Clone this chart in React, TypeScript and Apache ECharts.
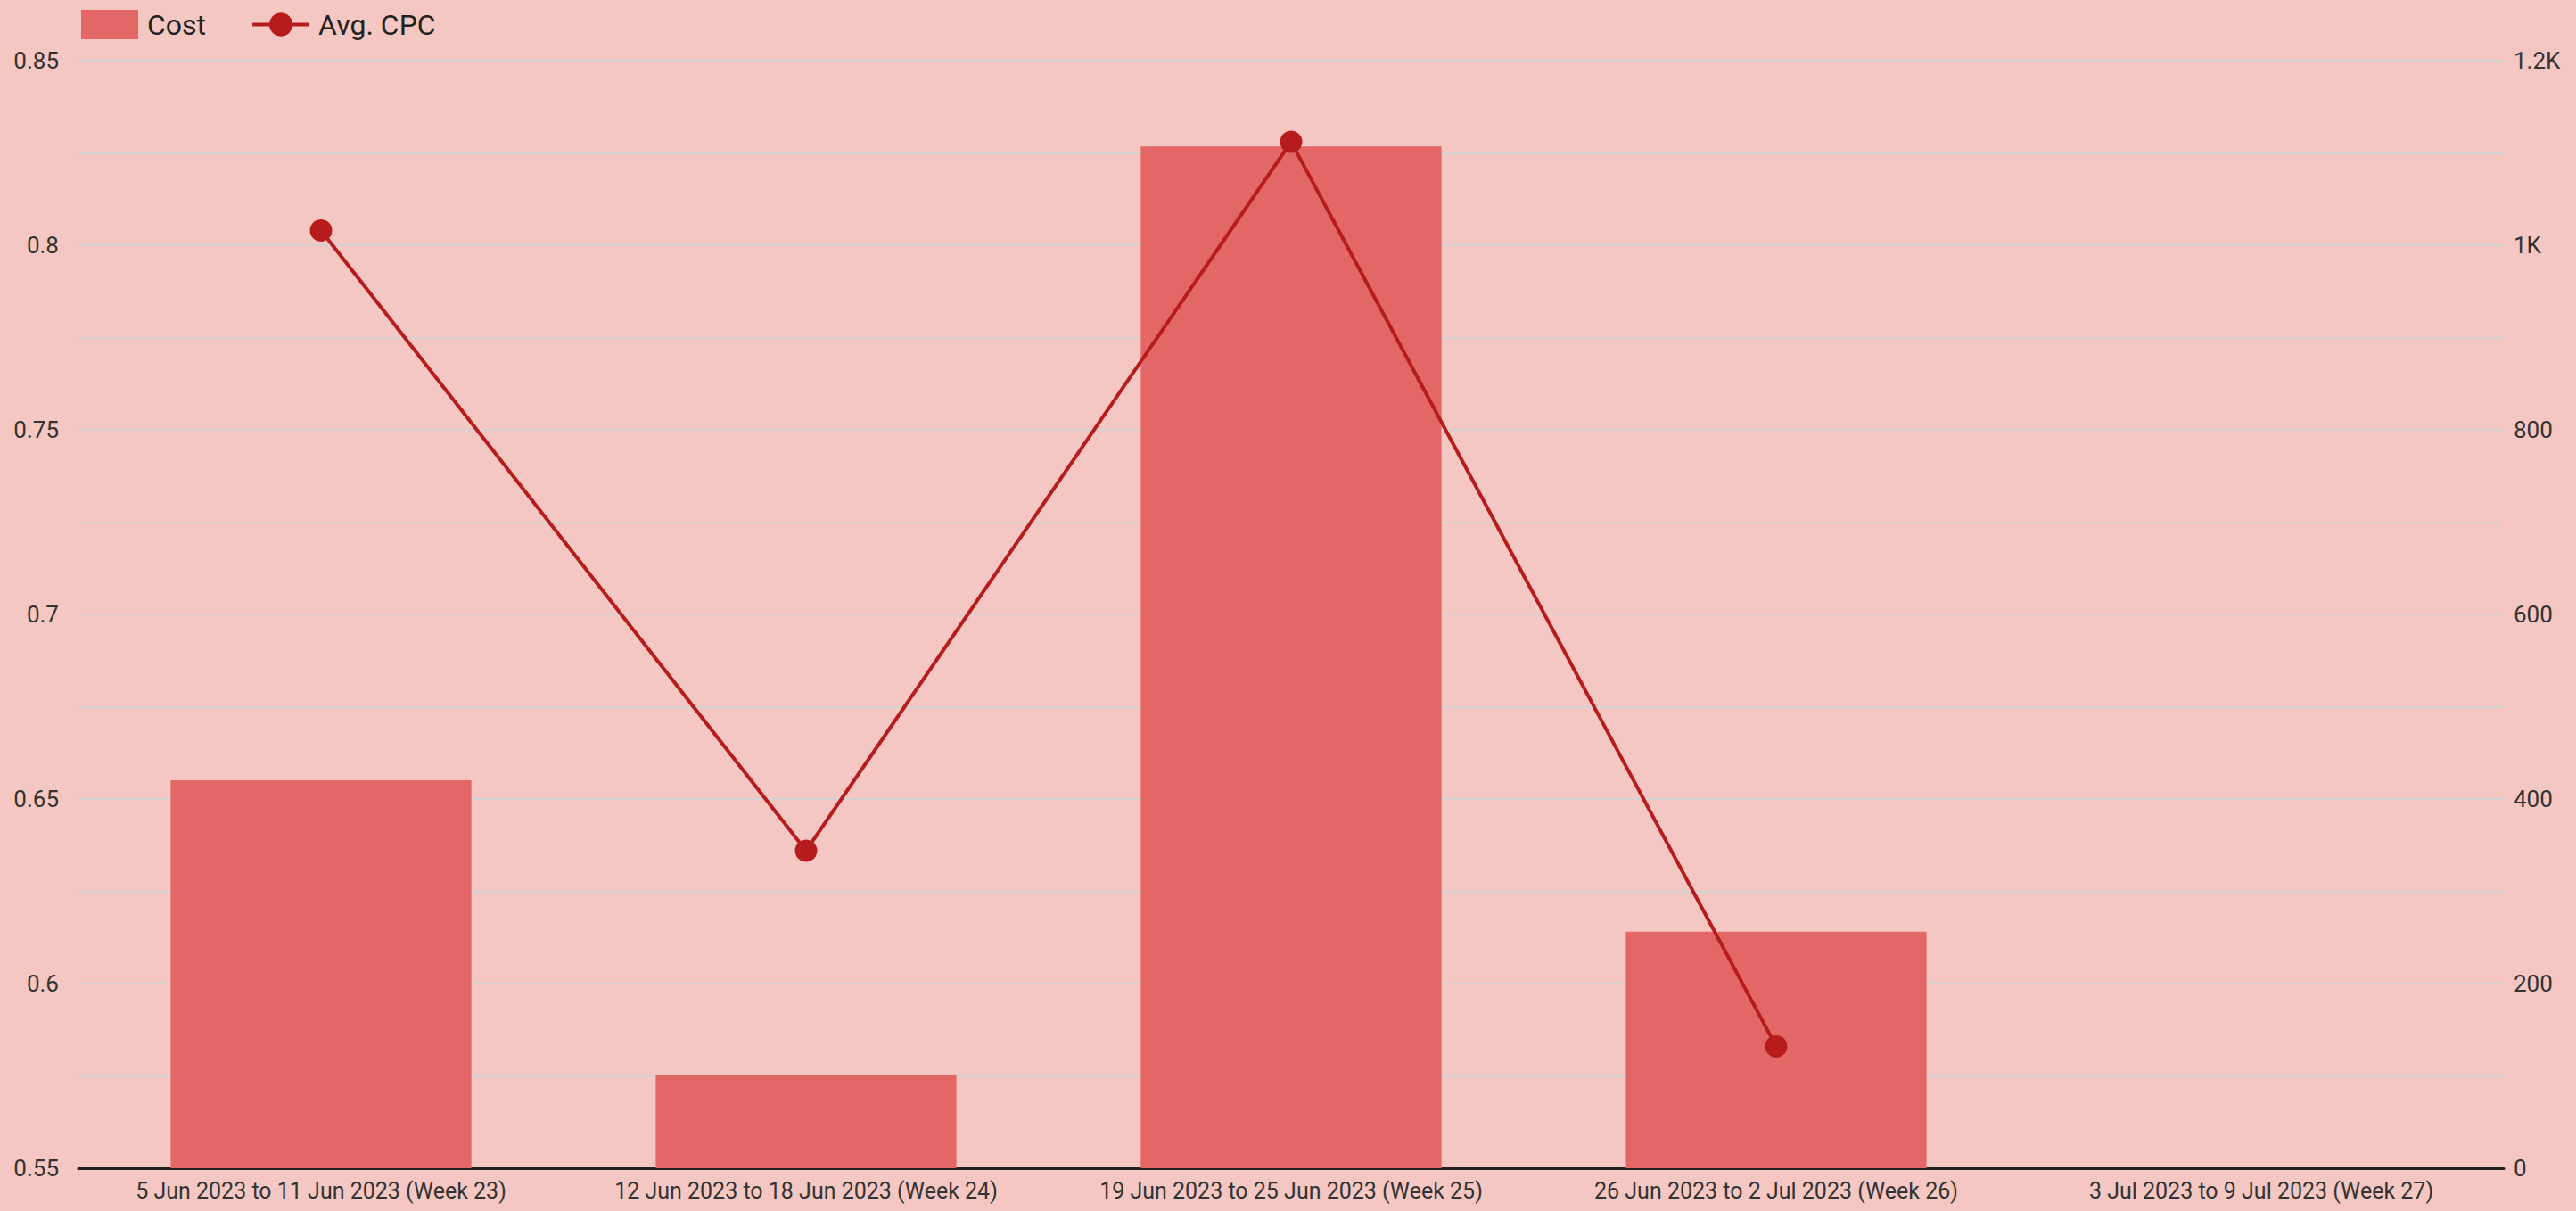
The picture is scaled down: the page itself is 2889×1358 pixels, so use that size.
import React, { useEffect, useRef } from "react";
import * as echarts from "echarts";

const categories = [
  "5 Jun 2023 to 11 Jun 2023 (Week 23)",
  "12 Jun 2023 to 18 Jun 2023 (Week 24)",
  "19 Jun 2023 to 25 Jun 2023 (Week 25)",
  "26 Jun 2023 to 2 Jul 2023 (Week 26)",
  "3 Jul 2023 to 9 Jul 2023 (Week 27)",
];
const costValues = [420.3, 101.4, 1107, 256.3, 0];
const avgCpcValues: (number | null)[] = [0.804, 0.636, 0.828, 0.583, null];

const FONT = "Roboto";

export default function App() {
  const ref = useRef<HTMLDivElement>(null);
  useEffect(() => {
    if (!ref.current) return;
    const chart = echarts.init(ref.current, undefined, { renderer: "svg" });
    chart.setOption({
      animation: false,
      backgroundColor: "#f4c7c3",
      textStyle: { fontFamily: FONT },
      legend: {
        left: 86,
        top: 6,
        itemWidth: 64,
        itemHeight: 33,
        itemGap: 50,
        lineStyle: { width: 4 },
        textStyle: { fontSize: 32, color: "#222", fontFamily: FONT, padding: [0, 0, 0, 5] },
        data: [{ name: "Cost", icon: "rect" }, { name: "Avg. CPC" }],
      },
      grid: { left: 88, right: 81, top: 68, bottom: 48, containLabel: false },
      xAxis: {
        type: "category",
        data: categories,
        axisLine: { show: true, lineStyle: { color: "#222", width: 3 } },
        axisTick: { show: false },
        axisLabel: { fontSize: 25, color: "#333", margin: 13, interval: 0, fontFamily: FONT },
      },
      yAxis: [
        {
          type: "value",
          min: 0.55,
          max: 0.85,
          interval: 0.05,
          position: "left",
          axisLine: { show: false },
          axisTick: { show: false },
          axisLabel: {
            fontSize: 26,
            color: "#333",
            margin: 22,
            fontFamily: FONT,
            formatter: (v: number) => String(+v.toFixed(3)),
          },
          splitLine: { show: true, lineStyle: { color: "#d2d2d2", width: 2 } },
          minorTick: { show: false, splitNumber: 2 },
          minorSplitLine: { show: true, lineStyle: { color: "#d2d2d2", width: 2 } },
        },
        {
          type: "value",
          min: 0,
          max: 1200,
          interval: 200,
          position: "right",
          axisLine: { show: false },
          axisTick: { show: false },
          splitLine: { show: false },
          axisLabel: {
            fontSize: 26,
            color: "#333",
            margin: 11,
            fontFamily: FONT,
            formatter: (v: number) => (v >= 1000 ? `${+(v / 1000).toFixed(1)}K` : String(v)),
          },
        },
      ],
      series: [
        {
          name: "Cost",
          type: "bar",
          yAxisIndex: 1,
          data: costValues,
          barWidth: "62%",
          itemStyle: { color: "#e46767" },
        },
        {
          name: "Avg. CPC",
          type: "line",
          yAxisIndex: 0,
          data: avgCpcValues,
          symbol: "circle",
          symbolSize: 25,
          lineStyle: { color: "#b71c1c", width: 4 },
          itemStyle: { color: "#b71c1c" },
          z: 5,
        },
      ],
    });
    return () => chart.dispose();
  }, []);
  return (
    <div
      ref={ref}
      style={{ position: "absolute", left: 0, top: 0, width: 2889, height: 1358 }}
    />
  );
}
